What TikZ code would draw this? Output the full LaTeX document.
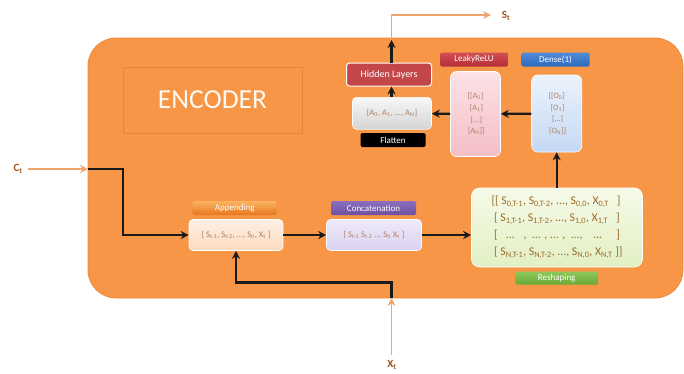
\documentclass[tikz,border=0pt]{standalone}
\usepackage{fontspec}
\setmainfont{Carlito}
\usetikzlibrary{arrows.meta}
\definecolor{enc}{HTML}{F79646}
\definecolor{encline}{HTML}{EE8A3E}
\definecolor{encbox}{HTML}{E8843A}
\definecolor{ora}{HTML}{F2A46E}
\definecolor{lblc}{HTML}{A0521E}
\definecolor{txtc}{HTML}{B08060}
\definecolor{mtxt}{HTML}{9A6A28}
\definecolor{blk}{HTML}{1A1A1A}
\begin{document}
\begin{tikzpicture}[x=1pt,y=-1pt,
  lbl/.style={rounded corners=1.5pt, text=white, inner sep=0pt, minimum height=14pt,
    font=\fontsize{9}{10}\selectfont},
  inbox/.style={rounded corners=4pt, draw=white, line width=0.6pt, inner sep=0pt,
    text=txtc, align=center},
  blkarrow/.style={draw=blk, line width=2.3pt, -{Stealth[length=8pt,width=8pt]}},
  oraarrow/.style={draw=ora, line width=1.8pt, -{Stealth[length=8pt,width=8pt]}},
  io/.style={text=lblc, font=\bfseries\fontsize{11}{12}\selectfont}
]
\useasboundingbox (0,0) rectangle (684,373);
% encoder body
\node[draw=encline, fill=enc, rounded corners=28pt, line width=0.8pt,
  minimum width=595pt, minimum height=260pt, inner sep=0pt] (enc) at (385.5,168) {};
\node[draw=encbox, fill=enc, line width=1pt, minimum width=179pt, minimum height=66pt,
  text=white!95!orange, font=\fontsize{27.5}{30}\selectfont] (title) at (212.5,100) {ENCODER};

% appending
\node[inbox, top color={rgb,255:red,254;green,240;blue,228}, bottom color={rgb,255:red,252;green,218;blue,190},
  minimum width=94pt, minimum height=31pt, font=\fontsize{8.6}{9}\selectfont]
  (app) at (236,235) {[ S\textsubscript{t-1}, S\textsubscript{t-2}, ..., S\textsubscript{0}, X\textsubscript{t} ]};
\node[lbl, top color={rgb,255:red,250;green,180;blue,95}, bottom color={rgb,255:red,232;green,118;blue,30},
  minimum width=84pt] (applbl) at (234.7,208) {Appending};

% concatenation
\node[inbox, top color={rgb,255:red,238;green,234;blue,250}, bottom color={rgb,255:red,218;green,210;blue,240},
  minimum width=95pt, minimum height=31pt, font=\fontsize{8.6}{9}\selectfont]
  (cat) at (374,235) {[ S\textsubscript{t-1} S\textsubscript{t-2} ... S\textsubscript{0} X\textsubscript{t} ]};
\node[lbl, top color={rgb,255:red,140;green,110;blue,190}, bottom color={rgb,255:red,110;green,80;blue,160},
  minimum width=85pt] (catlbl) at (373.5,208) {Concatenation};

% matrix
\node[inbox, top color={rgb,255:red,246;green,250;blue,232}, bottom color={rgb,255:red,226;green,240;blue,196},
  rounded corners=8pt, minimum width=171pt, minimum height=79pt, text=mtxt,
  font=\fontsize{11.8}{17}\selectfont, align=left]
  (mat) at (557,227.5) {[[ S\textsubscript{0,T-1}, S\textsubscript{0,T-2}, ..., S\textsubscript{0,0}, X\textsubscript{0,T} \ \ ]\\
  \ [ S\textsubscript{1,T-1}, S\textsubscript{1,T-2}, ..., S\textsubscript{1,0}, X\textsubscript{1,T} \ \ ]\\
  \ [ \ \ ... \ \ , \ ... , ... , \ ..., \ \ \ ... \ \ \ \ ]\\
  \ [ S\textsubscript{N,T-1}, S\textsubscript{N,T-2}, ..., S\textsubscript{N,0}, X\textsubscript{N,T} ]]};
\node[lbl, top color={rgb,255:red,140;green,200;blue,90}, bottom color={rgb,255:red,105;green,170;blue,55},
  minimum width=83pt, minimum height=13pt] (matlbl) at (556.7,278) {Reshaping};

% dense
\node[inbox, top color={rgb,255:red,236;green,243;blue,252}, bottom color={rgb,255:red,196;green,216;blue,244},
  rounded corners=6pt, minimum width=50pt, minimum height=77pt, font=\fontsize{8.2}{11.7}\selectfont]
  (dense) at (556.7,113.5) {[[O\textsubscript{0}]\\ \ [O\textsubscript{1}]\\ \ [...]\\ \ [O\textsubscript{N}]]};
\node[lbl, top color={rgb,255:red,80;green,140;blue,215}, bottom color={rgb,255:red,45;green,105;blue,190},
  minimum width=68pt] (denselbl) at (555.5,59.5) {Dense(1)};

% leaky relu
\node[inbox, top color={rgb,255:red,252;green,226;blue,230}, bottom color={rgb,255:red,245;green,190;blue,198},
  rounded corners=6pt, minimum width=50pt, minimum height=85pt, font=\fontsize{8.2}{11.7}\selectfont]
  (leaky) at (475.5,114) {[[A\textsubscript{0}]\\ \ [A\textsubscript{1}]\\ \ [...]\\ \ [A\textsubscript{N}]]};
\node[lbl, top color={rgb,255:red,210;green,80;blue,85}, bottom color={rgb,255:red,180;green,45;blue,55},
  minimum width=68pt] (leakylbl) at (474,59.5) {LeakyReLU};

% flatten
\node[inbox, top color={rgb,255:red,248;green,248;blue,248}, bottom color={rgb,255:red,212;green,212;blue,212},
  minimum width=79pt, minimum height=32pt, font=\fontsize{8.6}{9}\selectfont]
  (flat) at (392,113.3) {[A\textsubscript{0}, A\textsubscript{1}, ..., A\textsubscript{N}]};
\node[lbl, fill=black, minimum width=65pt, minimum height=14pt] (flatlbl) at (393,140) {Flatten};

% hidden layers
\node[draw=white, line width=1pt, rounded corners=3pt, fill={rgb,255:red,195;green,70;blue,75},
  text=white, minimum width=85pt, minimum height=23pt, inner sep=0pt,
  font=\fontsize{10}{11}\selectfont] (hid) at (389,74.5) {Hidden Layers};

% io labels
\node[io] (ct) at (18,169) {C\textsubscript{t}};
\node[io] (xt) at (392,365) {X\textsubscript{t}};
\node[io] (st) at (506,16) {S\textsubscript{t}};
\coordinate (cin) at (88,169);
\coordinate (cst) at (28,169);
\coordinate (xin) at (391.5,298);
\coordinate (xturn) at (391.5,282.5);
\coordinate (cturn) at (123,169);
\coordinate (sout) at (391.5,40);
\coordinate (stip) at (491,15);
\coordinate (xst) at (391.5,355);
\coordinate (vx) at (391.5,0);

% connectors
\draw[oraarrow] (cst) -- (cin);
\draw[blkarrow] (cin) -- (cturn) |- (app.west);
\draw[oraarrow] (xst) -- (xin);
\draw[blkarrow] (xin) -- (xturn) -| (app.south);
\draw[blkarrow] (app) -- (cat);
\draw[blkarrow] (cat.east) -- (cat.east -| mat.west);
\draw[blkarrow] (dense.south |- mat.north) -- (dense.south);
\draw[blkarrow] (dense) -- (leaky);
\draw[blkarrow] (leaky) -- (flat);
\draw[blkarrow] (flat.north -| vx) -- (hid.south -| vx);
\draw[blkarrow] (hid.north -| vx) -- (sout);
\draw[oraarrow] (sout) |- (stip);
\end{tikzpicture}
\end{document}
